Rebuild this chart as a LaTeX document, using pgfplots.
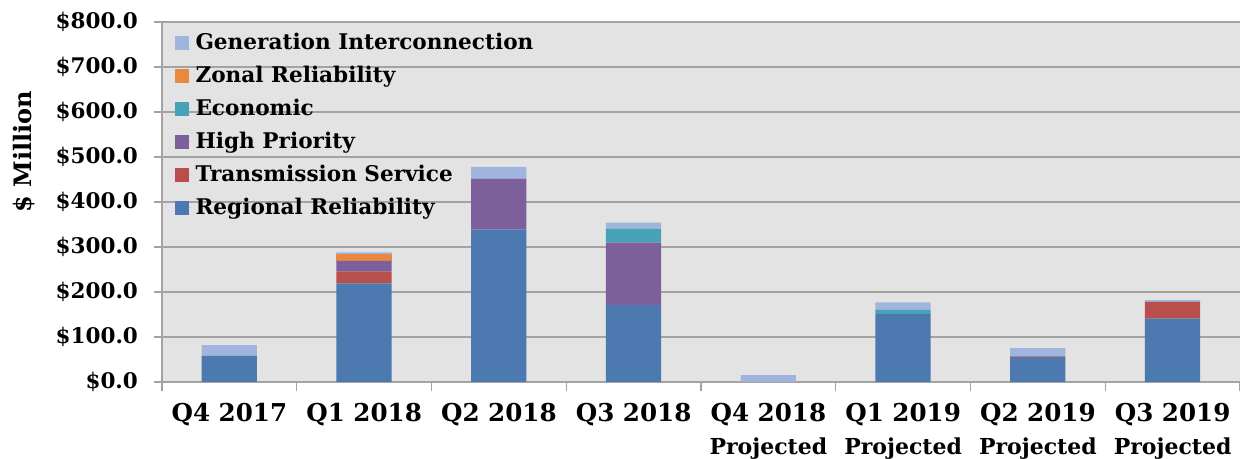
\documentclass[border=0pt]{standalone}
\usepackage{fontspec}
\setmainfont{DejaVu Serif}
\usepackage{pgfplots}
\pgfplotsset{compat=1.18}
\definecolor{cReg}{HTML}{4C7AB0}
\definecolor{cTrans}{HTML}{B84F4C}
\definecolor{cHigh}{HTML}{7D5F9B}
\definecolor{cEcon}{HTML}{47A2B8}
\definecolor{cZonal}{HTML}{E88A3E}
\definecolor{cGen}{HTML}{9FB5DD}
\definecolor{plotbg}{HTML}{E3E3E3}
\definecolor{gridc}{HTML}{A3A3A3}
\newcommand{\proj}{{\fontsize{11}{16.5}\selectfont Projected}}
\begin{document}
\begin{tikzpicture}
\begin{axis}[
  scale only axis,
  width=539pt, height=180pt,
  ybar stacked,
  bar width=0.41,
  xmin=-0.5, xmax=7.5,
  ymin=0, ymax=800,
  axis background/.style={fill=plotbg},
  axis line style={gridc, line width=0.8pt},
  axis x line*=bottom,
  axis y line*=left,
  ytick={0,100,...,800},
  yticklabels={\$0.0,\$100.0,\$200.0,\$300.0,\$400.0,\$500.0,\$600.0,\$700.0,\$800.0},
  ymajorgrids,
  major grid style={gridc, line width=1pt},
  ytick style={gridc, line width=0.8pt},
  major tick length=4pt,
  tick align=outside,
  yticklabel style={font=\bfseries\fontsize{10.75}{12}\selectfont, xshift=-4.5pt},
  xtick={0,...,7},
  xtick style={draw=none},
  xticklabels={Q4 2017, Q1 2018, Q2 2018, Q3 2018, {Q4 2018\\\proj}, {Q1 2019\\\proj}, {Q2 2019\\\proj}, {Q3 2019\\\proj}},
  xticklabel style={font=\bfseries\fontsize{12.3}{16.5}\selectfont, align=center, yshift=-3pt},
  extra x ticks={-0.5,0.5,...,7.5},
  extra x tick labels={},
  extra x tick style={grid=none, xtick style={draw=gridc, line width=0.6pt}, major tick length=4.5pt},
  ylabel={\$ Million},
  ylabel style={font=\bfseries\fontsize{12}{14}\selectfont, at={(axis description cs:-0.128,0.64)}, anchor=center},
  reverse legend,
  legend style={draw=none, fill=none, at={(axis cs:-0.41,785)}, anchor=north west,
    font=\bfseries\fontsize{10.8}{12}\selectfont, row sep=2.8pt, inner sep=0pt},
  legend cell align=left,
  legend image code/.code={\fill[#1] (0pt,-3.6pt) rectangle (7.2pt,3.6pt); \path (0pt,0pt) -- (8.5pt,0pt);},
  every axis plot/.append style={draw=none},
]
\addplot[fill=cReg] coordinates {(0,58) (1,219) (2,339) (3,171) (4,0) (5,151) (6,55) (7,141)};
\addlegendentry{Regional Reliability}
\addplot[fill=cTrans] coordinates {(0,0) (1,26) (2,0) (3,0) (4,0) (5,0) (6,2) (7,37)};
\addlegendentry{Transmission Service}
\addplot[fill=cHigh] coordinates {(0,0) (1,24) (2,113) (3,139) (4,0) (5,0) (6,0) (7,0)};
\addlegendentry{High Priority}
\addplot[fill=cEcon] coordinates {(0,0) (1,0) (2,0) (3,31) (4,0) (5,9) (6,0) (7,0)};
\addlegendentry{Economic}
\addplot[fill=cZonal] coordinates {(0,0) (1,15) (2,0) (3,0) (4,0) (5,0) (6,0) (7,0)};
\addlegendentry{Zonal Reliability}
\addplot[fill=cGen] coordinates {(0,24) (1,4) (2,26) (3,13) (4,15) (5,17) (6,18) (7,4)};
\addlegendentry{Generation Interconnection}
\end{axis}
\pgfresetboundingbox
\path (-81pt,-38.5pt) rectangle (539pt,191pt);
\end{tikzpicture}
\end{document}
